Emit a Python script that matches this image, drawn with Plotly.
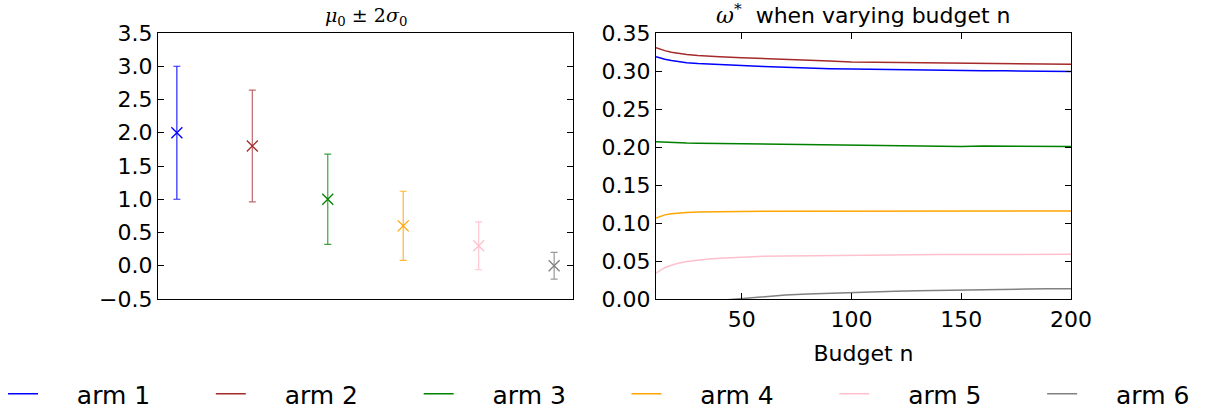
import plotly.graph_objects as go

# ---------------- data ----------------
arms = ["arm 1", "arm 2", "arm 3", "arm 4", "arm 5", "arm 6"]
colors = ["#0000ff", "#a52a2a", "#008000", "#ffa500", "#ffc0cb", "#808080"]
bar_colors = ["rgba(0,0,255,0.85)", "rgba(165,42,42,0.7)", "rgba(0,128,0,0.75)",
              "rgba(255,165,0,0.8)", "rgba(255,192,203,0.9)", "rgba(128,128,128,0.8)"]
mu0 = [2.0, 1.8, 1.0, 0.6, 0.3, 0.0]
two_sigma0 = [1.0, 0.84, 0.68, 0.52, 0.36, 0.2]

budget_n = [11, 13, 15, 18, 21, 25, 30, 35, 40, 50, 60, 70, 80, 90, 100,
            110, 120, 130, 140, 150, 160, 170, 180, 190, 200]
w_arm1 = [0.3188, 0.3170, 0.3155, 0.3138, 0.3123, 0.3110, 0.3098, 0.3090, 0.3085, 0.3074,
          0.3060, 0.3048, 0.3040, 0.3030, 0.3025, 0.3020, 0.3016, 0.3014, 0.3010, 0.3008,
          0.3004, 0.3002, 0.2998, 0.2997, 0.2995]
w_arm2 = [0.3307, 0.3285, 0.3268, 0.3248, 0.3232, 0.3218, 0.3205, 0.3195, 0.3187, 0.3175,
          0.3162, 0.3150, 0.3140, 0.3130, 0.3120, 0.3117, 0.3110, 0.3108, 0.3102, 0.3103,
          0.3096, 0.3095, 0.3093, 0.3092, 0.3088]
w_arm3 = [0.2068, 0.2065, 0.2062, 0.2058, 0.2055, 0.2052, 0.2050, 0.2048, 0.2047, 0.2045,
          0.2042, 0.2036, 0.2032, 0.2028, 0.2024, 0.2022, 0.2020, 0.2019, 0.2016, 0.2008,
          0.2014, 0.2012, 0.2010, 0.2009, 0.2006]
w_arm4 = [0.1064, 0.1090, 0.1107, 0.1122, 0.1131, 0.1139, 0.1144, 0.1147, 0.1149, 0.1152,
          0.1153, 0.1154, 0.1155, 0.1155, 0.1156, 0.1155, 0.1156, 0.1154, 0.1157, 0.1157,
          0.1156, 0.1158, 0.1157, 0.1157, 0.1157]
w_arm5 = [0.0339, 0.0380, 0.0412, 0.0445, 0.0470, 0.0492, 0.0512, 0.0527, 0.0537, 0.0552,
          0.0561, 0.0567, 0.0571, 0.0574, 0.0577, 0.0579, 0.0581, 0.0582, 0.0584, 0.0585,
          0.0586, 0.0587, 0.0588, 0.0589, 0.0589]
w_arm6 = [-0.0300, -0.0250, -0.0210, -0.0160, -0.0120, -0.0085, -0.0055, -0.0033, -0.0018, 0.0005,
          0.0030, 0.0052, 0.0066, 0.0077, 0.0087, 0.0095, 0.0103, 0.0109, 0.0115, 0.0120,
          0.0124, 0.0128, 0.0131, 0.0134, 0.0136]
weights = [w_arm1, w_arm2, w_arm3, w_arm4, w_arm5, w_arm6]

W, H = 1208, 413
FONT = "DejaVu Sans"
NB = "\u00a0"
TH = "\u2009"
LEAD = NB * 3 + TH * 2
TRAIL = NB * 7

fig = go.Figure()

# left: error bars
for i, name in enumerate(arms):
    fig.add_trace(go.Scatter(
        x=[i], y=[mu0[i]], mode="markers", name=name, showlegend=False,
        marker=dict(symbol="x-thin", size=11, line=dict(width=1.3, color=colors[i]), color=colors[i]),
        error_y=dict(type="data", array=[two_sigma0[i]], visible=True,
                     color=bar_colors[i], thickness=1.2, width=3.5),
        xaxis="x", yaxis="y"))

# right: weights vs budget
for i, name in enumerate(arms):
    label = LEAD + name + (TRAIL if i < len(arms) - 1 else "")
    fig.add_trace(go.Scatter(
        x=budget_n, y=weights[i], mode="lines", name=label,
        line=dict(color=colors[i], width=1.5), xaxis="x2", yaxis="y2"))

ydom = [1 - 299 / H, 1 - 33 / H]
common = dict(showline=True, linecolor="black", linewidth=1.2, mirror="ticks",
              ticks="inside", ticklen=6, tickcolor="black", showgrid=False, zeroline=False,
              tickfont=dict(family=FONT, size=22, color="black"))

fig.update_layout(
    width=W, height=H,
    margin=dict(l=0, r=0, t=0, b=0, autoexpand=False),
    paper_bgcolor="white", plot_bgcolor="white",
    font=dict(family=FONT, color="black"),
    xaxis=dict(domain=[158 / W, 573 / W], range=[-0.25, 5.25], showline=True, linecolor="black",
               linewidth=1.2, mirror=True, showticklabels=False, ticks="", showgrid=False,
               zeroline=False),
    yaxis=dict(domain=ydom, range=[-0.5, 3.5], dtick=0.5, tickformat=".1f", **common),
    xaxis2=dict(domain=[656 / W, 1071 / W], range=[11, 200], tickvals=[50, 100, 150, 200],
                anchor="y2",
                title=dict(text="Budget n", font=dict(family=FONT, size=22), standoff=15), **common),
    yaxis2=dict(domain=ydom, range=[0, 0.35], dtick=0.05, tickformat=".2f", anchor="x2", **common),
    legend=dict(orientation="h", xref="paper", yref="paper", x=3 / W, y=1 - 394 / H,
                xanchor="left", yanchor="middle", font=dict(family=FONT, size=25),
                itemwidth=30, tracegroupgap=0),
    annotations=[
        dict(text="<i>μ</i><sub>0</sub> ± 2<i>σ</i><sub>0</sub>", x=(158 + 573) / 2 / W, y=1 - 31 / H,
             xref="paper", yref="paper", xanchor="center", yanchor="bottom", showarrow=False,
             font=dict(family="DejaVu Serif", size=19, color="black")),
        dict(text="<span style='font-family:DejaVu Serif'><i>ω</i><sup>*</sup></span>  when varying budget n",
             x=(656 + 1071) / 2 / W, y=1 - 30 / H,
             xref="paper", yref="paper", xanchor="center", yanchor="bottom", showarrow=False,
             font=dict(family=FONT, size=22, color="black")),
    ],
)

fig.write_html("out.html", config={"displayModeBar": False},
               post_script="document.body.style.margin='0px'; document.body.style.overflow='hidden';")
